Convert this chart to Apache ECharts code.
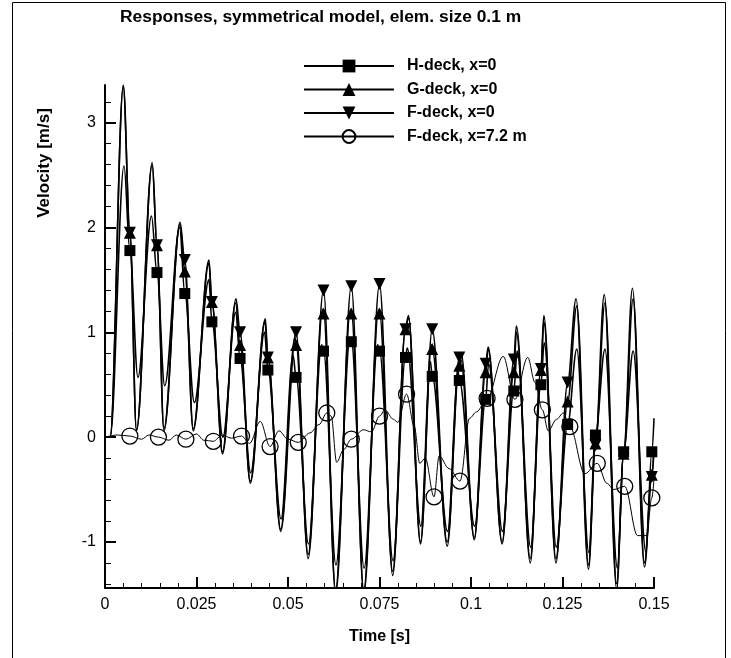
<!DOCTYPE html>
<html>
<head>
<meta charset="utf-8">
<script src="https://cdn.jsdelivr.net/npm/echarts@6/dist/echarts.min.js"></script>
<style>
  html, body { margin: 0; padding: 0; background: #fff; }
  #chart { width: 731px; height: 658px; }
</style>
</head>
<body>
<div id="chart"></div>
<script>
// Velocity responses [m/s] versus time [s]; curve points are peaks, troughs and shaping points
const hDeckCurve = [[0,0],[0.0014,0],[0.0052,2.59],[0.0090,0.57],[0.0127,2.11],[0.0163,0.49],[0.0204,2.00],[0.0244,0.33],[0.0284,1.50],[0.0322,0.0],[0.0357,1.19],[0.0398,-0.34],[0.0436,1.0],[0.0481,-0.78],[0.0514,0.78],[0.0556,-1.02],[0.0592,0.88],[0.0631,-1.22],[0.0670,0.95],[0.0708,-1.25],[0.0745,0.88],[0.0787,-1.18],[0.0826,0.85],[0.0863,-0.85],[0.0889,0.72],[0.0936,-0.9],[0.0965,0.62],[0.1010,-0.85],[0.1048,0.70],[0.1086,-0.9],[0.1126,0.82],[0.1163,-1.05],[0.1200,0.9],[0.1233,-1.05],[0.1289,0.84],[0.1322,-1.1],[0.1366,0.84],[0.1400,-1.25],[0.1443,0.82],[0.1478,-1.1],[0.15,0.18]];
const hDeckMarks = [[0.0068,1.78],[0.0142,1.57],[0.0218,1.37],[0.0292,1.10],[0.0369,0.75],[0.0445,0.64],[0.0522,0.57],[0.0597,0.82],[0.0673,0.91],[0.0750,0.82],[0.0821,0.76],[0.0894,0.58],[0.0968,0.54],[0.1040,0.36],[0.1117,0.44],[0.1191,0.50],[0.1264,0.12],[0.1340,0.02],[0.1417,-0.14],[0.1494,-0.14]];

const gDeckCurve = [[0,0],[0.0014,0],[0.0050,3.34],[0.0086,0.07],[0.0129,2.60],[0.0161,0.08],[0.0205,2.03],[0.0241,0.08],[0.0284,1.66],[0.0321,-0.14],[0.0357,1.28],[0.0397,-0.42],[0.0437,1.10],[0.0480,-0.88],[0.0519,0.95],[0.0555,-1.12],[0.0595,1.22],[0.0630,-1.45],[0.0671,1.22],[0.0707,-1.45],[0.0748,1.22],[0.0786,-1.28],[0.0829,1.14],[0.0862,-1.0],[0.0892,0.88],[0.0935,-1.0],[0.0972,0.74],[0.1009,-0.96],[0.1047,0.84],[0.1085,-1.0],[0.1124,1.0],[0.1162,-1.16],[0.1199,1.1],[0.1232,-1.16],[0.1289,1.25],[0.1321,-1.22],[0.1366,1.28],[0.1398,-1.4],[0.1443,1.32],[0.1474,-1.2],[0.15,-0.1]];
const gDeckMarks = [[0.0068,1.95],[0.0142,1.83],[0.0218,1.58],[0.0292,1.29],[0.0369,0.88],[0.0445,0.76],[0.0522,0.88],[0.0597,1.18],[0.0673,1.18],[0.0750,1.18],[0.0821,1.03],[0.0894,0.84],[0.0968,0.68],[0.1040,0.62],[0.1117,0.62],[0.1191,0.64],[0.1264,0.34],[0.1340,-0.06],[0.1417,-0.16],[0.1494,-0.36]];

const fDeckCurve = [[0,0],[0.0014,0],[0.0050,3.36],[0.0086,0.06],[0.0129,2.62],[0.0161,0.06],[0.0205,2.05],[0.0241,0.06],[0.0284,1.69],[0.0321,-0.16],[0.0358,1.32],[0.0397,-0.44],[0.0438,1.13],[0.0480,-0.90],[0.0555,-1.16],[0.0630,-1.50],[0.0707,-1.50],[0.0786,-1.32],[0.0829,1.16],[0.0862,-1.02],[0.0935,-1.04],[0.0973,0.80],[0.1009,-0.98],[0.1047,0.86],[0.1085,-1.02],[0.1124,1.06],[0.1162,-1.20],[0.1199,1.16],[0.1232,-1.20],[0.1287,1.32],[0.1321,-1.26],[0.1364,1.36],[0.1398,-1.45],[0.1441,1.42],[0.1474,-1.24],[0.15,-0.12]];
const fDeckMarks = [[0.0068,1.95],[0.0142,1.83],[0.0218,1.69],[0.0292,1.29],[0.0369,1.00],[0.0445,0.76],[0.0522,1.00],[0.0597,1.40],[0.0673,1.44],[0.0750,1.46],[0.0821,1.03],[0.0894,1.03],[0.0968,0.76],[0.1040,0.70],[0.1117,0.74],[0.1191,0.65],[0.1264,0.52],[0.1340,-0.08],[0.1417,-0.16],[0.1494,-0.38]];

const fDeck72Curve = [[0,0],[0.0035,0.02],[0.0100,-0.02],[0.0120,0.02],[0.0175,-0.03],[0.0195,0.02],[0.0250,0.03],[0.0270,-0.03],[0.0320,0.02],[0.0345,-0.01],[0.0395,-0.06],[0.0424,0.15],[0.0475,0.06],[0.0500,-0.02],[0.0560,0.04],[0.0585,0.12],[0.0618,0.20],[0.0633,-0.24],[0.0652,-0.12],[0.0706,0.07],[0.0728,0.05],[0.0765,0.26],[0.0788,0.17],[0.0800,0.14],[0.0845,0.10],[0.0860,-0.25],[0.0875,-0.20],[0.0913,-0.18],[0.0940,-0.30],[0.0996,0.18],[0.1015,0.24],[0.1088,0.77],[0.1155,0.76],[0.1175,0.52],[0.1211,0.06],[0.1234,0.17],[0.1252,0.23],[0.1311,-0.35],[0.1371,-0.44],[0.1390,-0.50],[0.1455,-0.94],[0.1480,-0.94],[0.15,-0.40]];
const fDeck72Marks = [[0.0068,0.01],[0.0146,0.0],[0.0221,-0.02],[0.0296,-0.04],[0.0373,0.01],[0.0451,-0.09],[0.0528,-0.05],[0.0606,0.23],[0.0673,-0.02],[0.0750,0.20],[0.0824,0.41],[0.0899,-0.57],[0.0970,-0.42],[0.1044,0.37],[0.1120,0.36],[0.1195,0.26],[0.1270,0.10],[0.1345,-0.25],[0.1420,-0.47],[0.1494,-0.58]];

const seriesNames = ['H-deck, x=0', 'G-deck, x=0', 'F-deck, x=0', 'F-deck, x=7.2 m'];
const xTicks = [0, 0.025, 0.05, 0.075, 0.1, 0.125, 0.15];
const yMajorTicks = [-1, 0, 1, 2, 3];
const yMinorTicks = [-1.4, -1.2, -0.8, -0.6, -0.4, -0.2, 0.2, 0.4, 0.6, 0.8, 1.2, 1.4, 1.6, 1.8, 2.2, 2.4, 2.6, 2.8, 3.2];

// merge curve and marker points; only marker points carry a symbol
function buildData(curve, marks) {
  const pts = curve.map(p => ({ value: p, symbol: 'none' }))
    .concat(marks.map(p => ({ value: p })));
  pts.sort((a, b) => a.value[0] - b.value[0]);
  return pts;
}

const black = '#000';
const font = '"Liberation Sans", Arial, Helvetica, sans-serif';

function deckSeries(name, curve, marks, symbol, size, rotate, width, hollow) {
  return {
    name: name,
    type: 'line',
    data: buildData(curve, marks),
    smooth: 0.35,
    smoothMonotone: 'x',
    symbol: symbol,
    symbolSize: size,
    symbolRotate: rotate,
    showSymbol: true,
    showAllSymbol: true,
    lineStyle: { color: black, width: width },
    itemStyle: hollow
      ? { color: 'transparent', borderColor: black, borderWidth: 1.3 }
      : { color: black, borderWidth: 0 },
    emphasis: { disabled: true },
    animation: false,
    clip: true
  };
}

const chart = echarts.init(document.getElementById('chart'), null, { renderer: 'canvas' });
chart.setOption({
  backgroundColor: '#fff',
  animation: false,
  title: {
    text: 'Responses, symmetrical model, elem. size 0.1 m',
    left: 115, top: 4,
    textStyle: { fontFamily: font, fontSize: 17.4, fontWeight: 'bold', color: black }
  },
  legend: {
    orient: 'vertical',
    left: 298, top: 53,
    itemWidth: 90, itemHeight: 16, itemGap: 7.5,
    textStyle: { fontFamily: font, fontSize: 16, fontWeight: 'bold', color: black, padding: [0, 0, 0, 8] },
    data: seriesNames
  },
  grid: { left: 105, top: 85, width: 549, height: 503, containLabel: false },
  xAxis: {
    type: 'value',
    min: xTicks[0], max: xTicks[xTicks.length - 1], interval: 0.025,
    name: 'Time [s]', nameLocation: 'middle', nameGap: 41,
    nameTextStyle: { fontFamily: font, fontSize: 16, fontWeight: 'bold', color: black },
    axisLine: { onZero: false, lineStyle: { color: black, width: 2 } },
    axisTick: { inside: true, length: 11, lineStyle: { color: black, width: 2 } },
    minorTick: { show: true, splitNumber: 5, length: 5, lineStyle: { color: black, width: 1 } },
    axisLabel: { fontFamily: font, fontSize: 16, color: black, margin: 9, formatter: v => String(+v.toFixed(3)) },
    splitLine: { show: false }
  },
  yAxis: [{
    type: 'value',
    min: -1.44, max: 3.36,
    axisLine: { lineStyle: { color: black, width: 2 } },
    axisTick: { inside: true, length: 11, customValues: yMajorTicks, lineStyle: { color: black, width: 2 } },
    axisLabel: { fontFamily: font, fontSize: 16, color: black, margin: 9, customValues: yMajorTicks },
    splitLine: { show: false }
  }, {
    type: 'value',
    min: -1.44, max: 3.36,
    position: 'left',
    axisLine: { show: false },
    axisTick: { inside: true, length: 6, customValues: yMinorTicks, lineStyle: { color: black, width: 1 } },
    axisLabel: { show: false },
    splitLine: { show: false }
  }],
  graphic: [
    {
      type: 'rect', silent: true,
      shape: { x: 12.5, y: 2.5, width: 713, height: 700 },
      style: { fill: 'none', stroke: black, lineWidth: 1 }
    },
    {
      type: 'text', silent: true,
      x: 44, y: 163, rotation: Math.PI / 2,
      style: {
        text: 'Velocity [m/s]', fill: black,
        font: 'bold 17px ' + font,
        textAlign: 'center', textVerticalAlign: 'middle'
      }
    }
  ],
  series: [
    deckSeries(seriesNames[0], hDeckCurve, hDeckMarks, 'rect', 11, 0, 1.6, false),
    deckSeries(seriesNames[1], gDeckCurve, gDeckMarks, 'triangle', 12, 0, 1.6, false),
    deckSeries(seriesNames[2], fDeckCurve, fDeckMarks, 'triangle', 12, 180, 1.6, false),
    deckSeries(seriesNames[3], fDeck72Curve, fDeck72Marks, 'circle', 16, 0, 1, true)
  ]
});
</script>
</body>
</html>
